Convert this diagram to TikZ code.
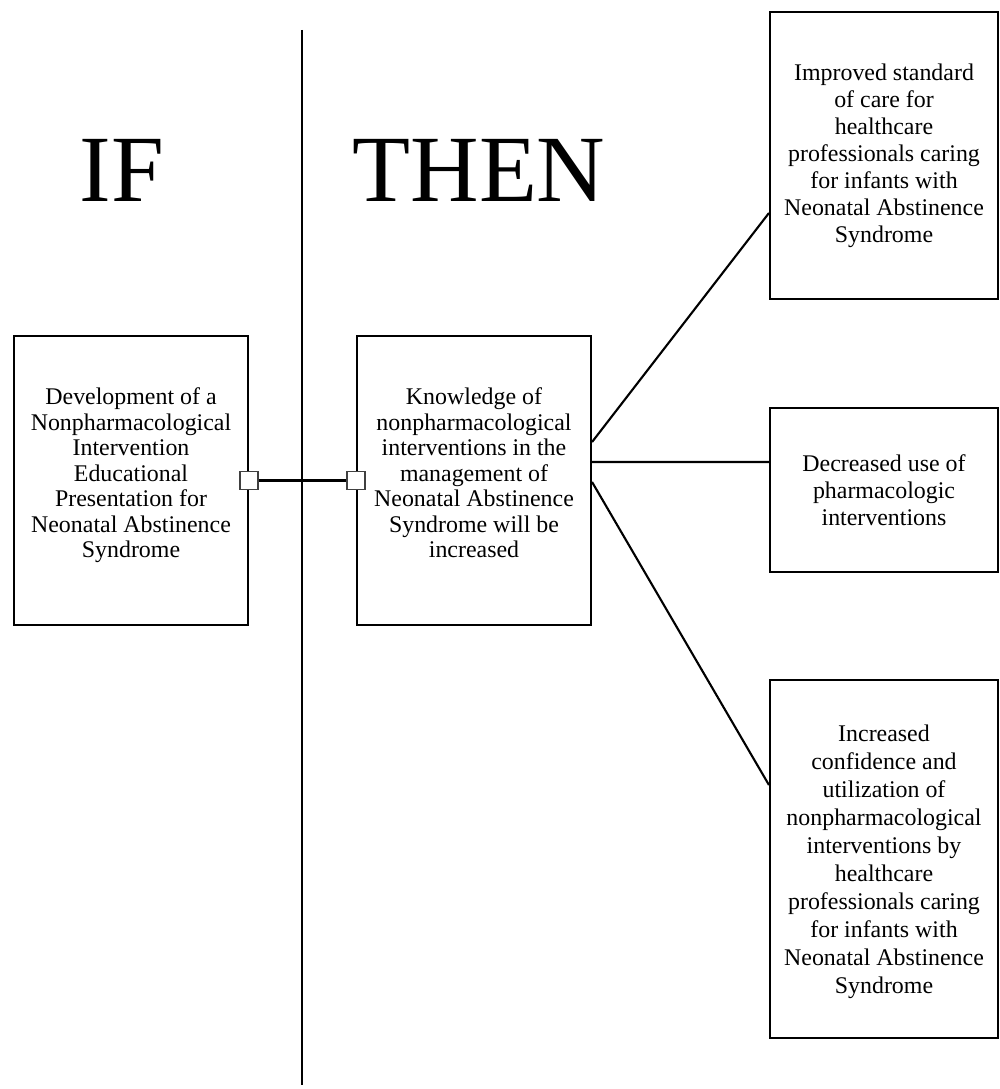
\documentclass[tikz,border=0pt]{standalone}
\usepackage{fontspec}
\setmainfont{Liberation Serif}
\begin{document}
\begin{tikzpicture}[
  box/.style={draw, line width=0.6pt, align=center, inner sep=0pt, font=\fontsize{6.8}{7.25}\selectfont},
  rbox/.style={box, font=\fontsize{6.8}{7.7}\selectfont},
  handle/.style={draw=black!75, fill=white, line width=0.5pt, minimum size=1.8mm, inner sep=0pt},
  big/.style={font=\fontsize{27}{28}\selectfont, inner sep=0pt},
  conn/.style={line width=0.6pt}
]
\useasboundingbox (0,0) rectangle (10,-10.89);
% title words
\node[big] (if) at (1.22,-1.70) {IF};
\node[big] (then) at (4.79,-1.70) {THEN};
% divider
\coordinate (vt) at (3.02,-0.30);
\coordinate (vb) at (3.02,-10.85);
\draw[conn] (vt) -- (vb);
% boxes
\node[box, minimum width=2.34cm, minimum height=2.89cm, text depth=1.5mm] (left) at (1.31,-4.805)
  {Development of a\\Nonpharmacological\\Intervention\\Educational\\Presentation for\\Neonatal Abstinence\\Syndrome};
\node[box, minimum width=2.34cm, minimum height=2.89cm, text depth=1.5mm] (mid) at (4.74,-4.805)
  {Knowledge of\\nonpharmacological\\interventions in the\\management of\\Neonatal Abstinence\\Syndrome will be\\increased};
\node[rbox, minimum width=2.28cm, minimum height=2.87cm] (r1) at (8.84,-1.555)
  {Improved standard\\of care for\\healthcare\\professionals caring\\for infants with\\Neonatal Abstinence\\Syndrome};
\node[rbox, minimum width=2.28cm, minimum height=1.64cm] (r2) at (8.84,-4.90)
  {Decreased use of\\pharmacologic\\interventions};
\node[rbox, minimum width=2.28cm, minimum height=3.58cm, text depth=-0.5mm, font=\fontsize{6.8}{7.95}\selectfont] (r3) at (8.84,-8.59)
  {Increased\\confidence and\\utilization of\\nonpharmacological\\interventions by\\healthcare\\professionals caring\\for infants with\\Neonatal Abstinence\\Syndrome};
% handles
\node[handle] (h1) at (left.east) {};
\node[handle] (h2) at (mid.west) {};
\draw[conn] (h1) -- (h2);
% connectors
\draw[conn] ([yshift=3.85mm]mid.east) -- ([yshift=-5.75mm]r1.west);
\draw[conn] ([yshift=1.85mm]mid.east) -- ([yshift=2.8mm]r2.west);
\draw[conn] ([yshift=-0.15mm]mid.east) -- ([yshift=7.4mm]r3.west);
\end{tikzpicture}
\end{document}
